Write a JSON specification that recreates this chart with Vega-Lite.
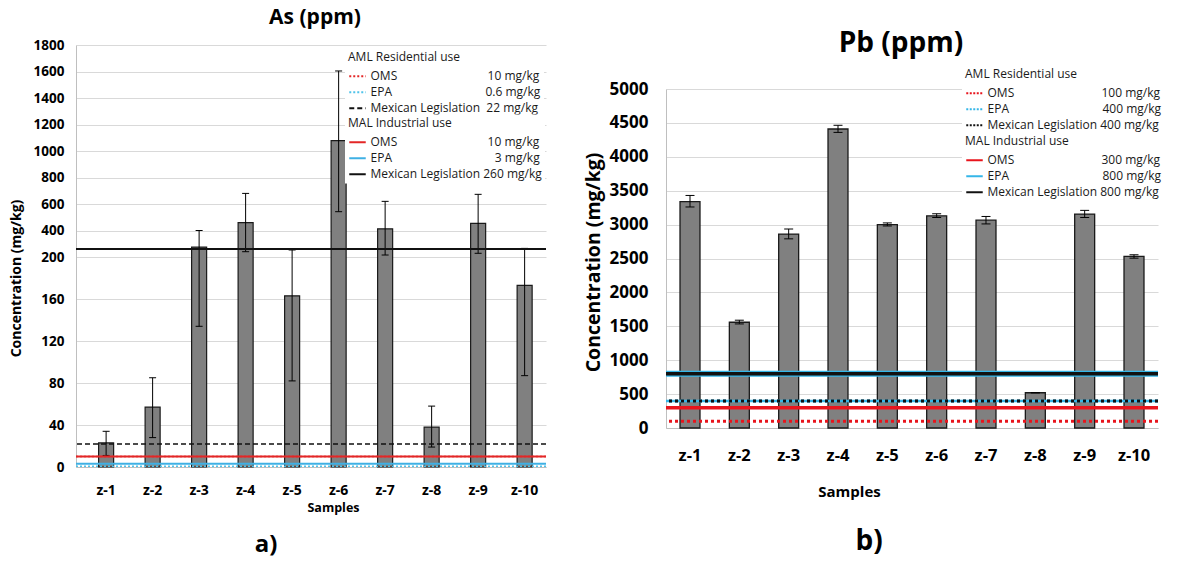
{
  "$schema": "https://vega.github.io/schema/vega-lite/v6.json",
  "padding": {"left": 9, "top": 7, "right": 5, "bottom": 4},
  "config": {
    "font": "Open Sans",
    "view": {"stroke": null},
    "axis": {"labelColor": "#000000", "titleColor": "#000000", "domainColor": "#bfbfbf", "gridColor": "#d9d9d9", "ticks": false, "tickSize": 0, "labelFontWeight": "bold", "titleFontWeight": "bold", "labelOverlap": false, "labelFlush": false},
    "axisX": {"labelAngle": 0, "grid": false},
    "legend": {"orient": "none", "direction": "vertical", "symbolType": "stroke", "symbolSize": 272, "symbolStrokeWidth": 2, "labelLimit": 320, "titleLimit": 300, "fillColor": "white", "padding": 3, "titlePadding": 3.25, "rowPadding": 0, "labelOffset": 3.5, "titleFontWeight": "normal", "titleFontSize": 12, "labelFontSize": 12, "titleColor": "#1a1a1a", "labelColor": "#1a1a1a"},
    "title": {"color": "#000000", "fontWeight": "bold"}
  },
  "datasets": {
    "as": [
      {"sample": "z-1", "value": 23, "lo": 11, "hi": 34},
      {"sample": "z-2", "value": 57, "lo": 28, "hi": 85},
      {"sample": "z-3", "value": 275, "lo": 134, "hi": 400},
      {"sample": "z-4", "value": 459, "lo": 240, "hi": 680},
      {"sample": "z-5", "value": 163, "lo": 82, "hi": 253},
      {"sample": "z-6", "value": 1078, "lo": 542, "hi": 1604},
      {"sample": "z-7", "value": 413, "lo": 215, "hi": 620},
      {"sample": "z-8", "value": 38, "lo": 19, "hi": 58},
      {"sample": "z-9", "value": 454, "lo": 228, "hi": 673},
      {"sample": "z-10", "value": 173, "lo": 87, "hi": 265}
    ],
    "asLimits": [
      {"use": "res", "standard": "OMS", "limit": 10, "label": "OMS\u00a0\u00a0\u00a0\u00a0\u00a0\u00a0\u00a0\u00a0\u00a0\u00a0\u00a0\u00a0\u00a0\u00a0\u00a0\u00a0\u00a0\u00a0\u00a0\u00a0\u00a0\u00a0\u00a0\u00a0\u00a0\u00a0\u00a0\u00a0\u00a010 mg/kg"},
      {"use": "res", "standard": "EPA", "limit": 0.6, "label": "EPA\u00a0\u00a0\u00a0\u00a0\u00a0\u00a0\u00a0\u00a0\u00a0\u00a0\u00a0\u00a0\u00a0\u00a0\u00a0\u00a0\u00a0\u00a0\u00a0\u00a0\u00a0\u00a0\u00a0\u00a0\u00a0\u00a0\u00a0\u00a0\u00a0\u00a00.6 mg/kg"},
      {"use": "res", "standard": "Mexican Legislation", "limit": 22, "label": "Mexican Legislation\u00a0\u00a022 mg/kg"},
      {"use": "ind", "standard": "OMS", "limit": 10, "label": "OMS\u00a0\u00a0\u00a0\u00a0\u00a0\u00a0\u00a0\u00a0\u00a0\u00a0\u00a0\u00a0\u00a0\u00a0\u00a0\u00a0\u00a0\u00a0\u00a0\u00a0\u00a0\u00a0\u00a0\u00a0\u00a0\u00a0\u00a0\u00a0\u00a010 mg/kg"},
      {"use": "ind", "standard": "EPA", "limit": 3, "label": "EPA\u00a0\u00a0\u00a0\u00a0\u00a0\u00a0\u00a0\u00a0\u00a0\u00a0\u00a0\u00a0\u00a0\u00a0\u00a0\u00a0\u00a0\u00a0\u00a0\u00a0\u00a0\u00a0\u00a0\u00a0\u00a0\u00a0\u00a0\u00a0\u00a0\u00a0\u00a0\u00a0\u00a03 mg/kg"},
      {"use": "ind", "standard": "Mexican Legislation", "limit": 260, "label": "Mexican Legislation 260 mg/kg"}
    ],
    "pb": [
      {"sample": "z-1", "value": 3340, "lo": 3260, "hi": 3430},
      {"sample": "z-2", "value": 1560, "lo": 1535, "hi": 1590},
      {"sample": "z-3", "value": 2860, "lo": 2790, "hi": 2935},
      {"sample": "z-4", "value": 4410, "lo": 4360, "hi": 4465},
      {"sample": "z-5", "value": 3000, "lo": 2980, "hi": 3025},
      {"sample": "z-6", "value": 3130, "lo": 3105, "hi": 3160},
      {"sample": "z-7", "value": 3065, "lo": 3010, "hi": 3120},
      {"sample": "z-8", "value": 520, "lo": 520, "hi": 520},
      {"sample": "z-9", "value": 3155, "lo": 3105, "hi": 3210},
      {"sample": "z-10", "value": 2530, "lo": 2505, "hi": 2555}
    ],
    "pbLimits": [
      {"use": "res", "standard": "OMS", "limit": 100, "label": "OMS\u00a0\u00a0\u00a0\u00a0\u00a0\u00a0\u00a0\u00a0\u00a0\u00a0\u00a0\u00a0\u00a0\u00a0\u00a0\u00a0\u00a0\u00a0\u00a0\u00a0\u00a0\u00a0\u00a0\u00a0\u00a0\u00a0\u00a0\u00a0100 mg/kg"},
      {"use": "res", "standard": "EPA", "limit": 400, "label": "EPA\u00a0\u00a0\u00a0\u00a0\u00a0\u00a0\u00a0\u00a0\u00a0\u00a0\u00a0\u00a0\u00a0\u00a0\u00a0\u00a0\u00a0\u00a0\u00a0\u00a0\u00a0\u00a0\u00a0\u00a0\u00a0\u00a0\u00a0\u00a0\u00a0\u00a0400 mg/kg"},
      {"use": "res", "standard": "Mexican Legislation", "limit": 400, "label": "Mexican Legislation 400 mg/kg"},
      {"use": "ind", "standard": "OMS", "limit": 300, "label": "OMS\u00a0\u00a0\u00a0\u00a0\u00a0\u00a0\u00a0\u00a0\u00a0\u00a0\u00a0\u00a0\u00a0\u00a0\u00a0\u00a0\u00a0\u00a0\u00a0\u00a0\u00a0\u00a0\u00a0\u00a0\u00a0\u00a0\u00a0\u00a0300 mg/kg"},
      {"use": "ind", "standard": "EPA", "limit": 800, "label": "EPA\u00a0\u00a0\u00a0\u00a0\u00a0\u00a0\u00a0\u00a0\u00a0\u00a0\u00a0\u00a0\u00a0\u00a0\u00a0\u00a0\u00a0\u00a0\u00a0\u00a0\u00a0\u00a0\u00a0\u00a0\u00a0\u00a0\u00a0\u00a0\u00a0\u00a0800 mg/kg"},
      {"use": "ind", "standard": "Mexican Legislation", "limit": 800, "label": "Mexican Legislation 800 mg/kg"}
    ]
  },
  "resolve": {"scale": {"x": "independent", "y": "independent", "color": "independent", "stroke": "independent", "strokeDash": "independent"}},
  "spacing": 36,
  "hconcat": [
    {
      "title": {"text": "a)", "orient": "bottom", "fontSize": 24, "offset": 19.5, "frame": "bounds", "anchor": "middle", "dx": -12},
      "vconcat": [
        {
          "title": {"text": "As (ppm)", "fontSize": 21, "frame": "group", "anchor": "middle", "offset": 10, "dx": 4},
          "width": 470,
          "height": 422,
          "layer": [
            {
              "data": {"name": "as"},
              "mark": {"type": "bar", "color": "#808080", "stroke": "#1a1a1a", "strokeWidth": 1.2, "opacity": 1},
              "encoding": {
                "x": {"field": "sample", "type": "nominal", "sort": null, "title": "Samples",
                  "scale": {"paddingInner": 0.677, "paddingOuter": 0.392, "align": 0.62},
                  "axis": {"labelFontSize": 14, "labelPadding": 16.6, "titleFontSize": 12.5, "titlePadding": 3.4, "titleX": 257}},
                "y": {"field": "value", "type": "quantitative", "title": "Concentration (mg/kg)",
                  "scale": {"domain": [0, 200, 1800], "range": [422, 212, 0], "nice": false, "zero": false},
                  "axis": {"values": [0, 40, 80, 120, 160, 200, 400, 600, 800, 1000, 1200, 1400, 1600, 1800], "tickCount": 30, "format": "d", "labelFontSize": 13.5, "labelPadding": 12, "titleFontSize": 14, "titlePadding": 10, "titleY": 233}}
              }
            },
            {
              "data": {"name": "as"},
              "mark": {"type": "rule", "color": "#000000", "strokeWidth": 1, "opacity": 1},
              "encoding": {
                "x": {"field": "sample", "type": "nominal", "sort": null, "title": "Samples"},
                "y": {"field": "lo", "type": "quantitative", "title": "Concentration (mg/kg)"},
                "y2": {"field": "hi"}
              }
            },
            {
              "data": {"name": "as"},
              "mark": {"type": "tick", "color": "#000000", "thickness": 1, "size": 7, "opacity": 1},
              "encoding": {
                "x": {"field": "sample", "type": "nominal", "sort": null, "title": "Samples"},
                "y": {"field": "hi", "type": "quantitative", "title": "Concentration (mg/kg)"}
              }
            },
            {
              "data": {"name": "as"},
              "mark": {"type": "tick", "color": "#000000", "thickness": 1, "size": 7, "opacity": 1},
              "encoding": {
                "x": {"field": "sample", "type": "nominal", "sort": null, "title": "Samples"},
                "y": {"field": "lo", "type": "quantitative", "title": "Concentration (mg/kg)"}
              }
            },
            {
              "data": {"name": "asLimits"},
              "transform": [{"filter": "datum.use == 'res'"}],
              "mark": {"type": "rule", "strokeWidth": 1.5, "opacity": 1},
              "encoding": {
                "y": {"field": "limit", "type": "quantitative", "title": "Concentration (mg/kg)"},
                "color": {"field": "label", "type": "nominal", "sort": null,
                  "scale": {"range": ["#e32626", "#4fc3ea", "#111111"]},
                  "legend": {"title": "AML Residential use", "legendX": 269, "legendY": 3.5, "symbolDash": [2, 1.5]}},
                "strokeDash": {"field": "label", "type": "nominal", "sort": null,
                  "scale": {"range": [[2, 2], [2, 2], [5, 3]]}, "legend": null}
              }
            },
            {
              "data": {"name": "asLimits"},
              "transform": [{"filter": "datum.use == 'ind'"}],
              "mark": {"type": "rule", "strokeWidth": 2, "opacity": 1},
              "encoding": {
                "y": {"field": "limit", "type": "quantitative", "title": "Concentration (mg/kg)"},
                "stroke": {"field": "label", "type": "nominal", "sort": null,
                  "scale": {"range": ["#e32626", "#3fb0e4", "#111111"]},
                  "legend": {"title": "MAL Industrial use", "legendX": 269, "legendY": 69.5}}
              }
            }
          ]
        }
      ]
    },
    {
      "title": {"text": "b)", "orient": "bottom", "fontSize": 28, "offset": 28.6, "frame": "bounds", "anchor": "middle", "dx": -5},
      "vconcat": [
        {
          "title": {"text": "Pb (ppm)", "fontSize": 28, "frame": "group", "anchor": "middle", "offset": -12.7, "dx": -11},
          "width": 492,
          "height": 383,
          "layer": [
            {
              "data": {"name": "pb"},
              "mark": {"type": "bar", "color": "#808080", "stroke": "#1a1a1a", "strokeWidth": 1.3, "opacity": 1},
              "encoding": {
                "x": {"field": "sample", "type": "nominal", "sort": null, "title": "Samples",
                  "scale": {"paddingInner": 0.595, "paddingOuter": 0.284},
                  "axis": {"labelFontSize": 16.5, "labelPadding": 19.4, "titleFontSize": 15, "titlePadding": 20.8, "titleX": 183}},
                "y": {"field": "value", "type": "quantitative", "title": "Concentration (mg/kg)",
                  "scale": {"domain": [0, 5000], "range": [383, 44], "nice": false},
                  "axis": {"values": [0, 500, 1000, 1500, 2000, 2500, 3000, 3500, 4000, 4500, 5000], "tickCount": 30, "format": "d", "labelFontSize": 17, "labelPadding": 18, "titleFontSize": 19.5, "titlePadding": 6, "titleY": 217}}
              }
            },
            {
              "data": {"name": "pb"},
              "mark": {"type": "rule", "color": "#000000", "strokeWidth": 1, "opacity": 1},
              "encoding": {
                "x": {"field": "sample", "type": "nominal", "sort": null, "title": "Samples"},
                "y": {"field": "lo", "type": "quantitative", "title": "Concentration (mg/kg)"},
                "y2": {"field": "hi"}
              }
            },
            {
              "data": {"name": "pb"},
              "mark": {"type": "tick", "color": "#000000", "thickness": 1, "size": 9, "opacity": 1},
              "encoding": {
                "x": {"field": "sample", "type": "nominal", "sort": null, "title": "Samples"},
                "y": {"field": "hi", "type": "quantitative", "title": "Concentration (mg/kg)"}
              }
            },
            {
              "data": {"name": "pb"},
              "mark": {"type": "tick", "color": "#000000", "thickness": 1, "size": 9, "opacity": 1},
              "encoding": {
                "x": {"field": "sample", "type": "nominal", "sort": null, "title": "Samples"},
                "y": {"field": "lo", "type": "quantitative", "title": "Concentration (mg/kg)"}
              }
            },
            {
              "data": {"name": "pbLimits"},
              "transform": [{"filter": "datum.use == 'res' && datum.standard == 'EPA'"}],
              "mark": {"type": "rule", "color": "#35b6e8", "strokeWidth": 2.5, "opacity": 1},
              "encoding": {
                "y": {"field": "limit", "type": "quantitative", "title": "Concentration (mg/kg)"}
              }
            },
            {
              "data": {"name": "pbLimits"},
              "transform": [{"filter": "datum.use == 'res'"}],
              "mark": {"type": "rule", "strokeWidth": 3, "strokeDash": [3, 3], "opacity": 1},
              "encoding": {
                "y": {"field": "limit", "type": "quantitative", "title": "Concentration (mg/kg)"},
                "color": {"field": "label", "type": "nominal", "sort": null,
                  "scale": {"range": ["#e8141c", "#35b6e8", "#111111"]},
                  "legend": {"title": "AML Residential use", "legendX": 296, "legendY": 20.5, "symbolDash": [2, 1.5]}}
              }
            },
            {
              "data": {"name": "pbLimits"},
              "transform": [{"filter": "datum.use == 'ind' && datum.standard == 'EPA'"}],
              "mark": {"type": "rule", "color": "#35b6e8", "strokeWidth": 6, "opacity": 1},
              "encoding": {
                "y": {"field": "limit", "type": "quantitative", "title": "Concentration (mg/kg)"}
              }
            },
            {
              "data": {"name": "pbLimits"},
              "transform": [{"filter": "datum.use == 'ind'"}],
              "mark": {"type": "rule", "strokeWidth": 3.5, "opacity": 1},
              "encoding": {
                "y": {"field": "limit", "type": "quantitative", "title": "Concentration (mg/kg)"},
                "stroke": {"field": "label", "type": "nominal", "sort": null,
                  "scale": {"range": ["#e8141c", "#35b6e8", "#111111"]},
                  "legend": {"title": "MAL Industrial use", "legendX": 296, "legendY": 87.5}}
              }
            }
          ]
        }
      ]
    }
  ]
}
